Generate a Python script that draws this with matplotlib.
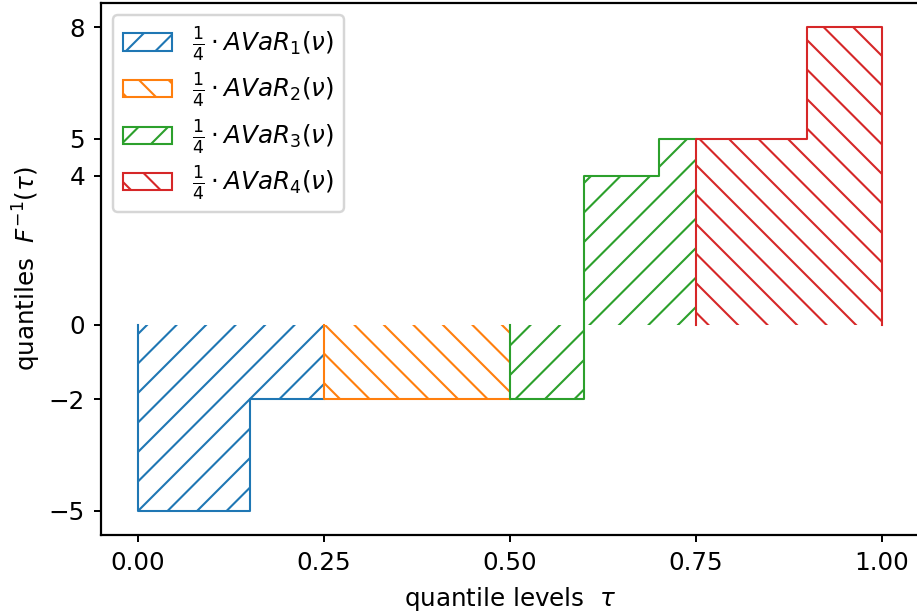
import numpy as np
import matplotlib
matplotlib.use("Agg")
import matplotlib.pyplot as plt
from matplotlib.patches import Patch

# quantile function of the discrete distribution (step, right-continuous)
level_breaks = [0.0, 0.15, 0.6, 0.7, 0.9, 1.0]
quantile_values = [-5, -2, 4, 5, 8]
quarter_edges = [0.0, 0.25, 0.5, 0.75, 1.0]
colors = ['#1f77b4', '#ff7f0e', '#2ca02c', '#d62728']
hatches = ['//', '\\\\', '//', '\\\\']
labels = [r'$\frac{1}{4}\cdot AVaR_%d(\nu)$' % (i + 1) for i in range(4)]
yticks = [-5, -2, 0, 4, 5, 8]
xticks = [0.0, 0.25, 0.5, 0.75, 1.0]

DPI = 177
FS = 10
plt.rcParams.update({
    'font.size': FS,
    'hatch.linewidth': 0.85,
    'xtick.major.size': 3.0,
    'ytick.major.size': 3.0,
    'xtick.major.width': 0.8,
    'ytick.major.width': 0.8,
    'axes.linewidth': 0.9,
})


def quantile(t):
    idx = np.searchsorted(level_breaks, t, side='right') - 1
    idx = np.clip(idx, 0, len(quantile_values) - 1)
    return np.array(quantile_values)[idx]


fig = plt.figure(figsize=(917 / DPI, 612 / DPI), dpi=DPI)
ax = fig.add_axes([101 / 917, 77 / 612, 818 / 917, 532 / 612])

for i in range(4):
    a, b = quarter_edges[i], quarter_edges[i + 1]
    inner = [x for x in level_breaks if a < x < b]
    xs = np.array([a] + inner + [b])
    ys = quantile(xs)
    ys[-1] = ys[-2]
    ax.fill_between(xs, 0, ys, step='post', facecolor='none',
                    edgecolor=colors[i], hatch=hatches[i], linewidth=0)
    # outline without the baseline
    px = [a]
    py = [0]
    for j in range(len(xs) - 1):
        px += [xs[j], xs[j + 1]]
        py += [ys[j], ys[j]]
    if i == 3:
        px.append(b)
        py.append(0)
    ax.plot(px, py, color=colors[i], linewidth=0.85)

ax.set_xlim(-0.05, 1.05)
ax.set_ylim(-5.65, 8.65)
ax.set_xticks(xticks)
ax.set_yticks(yticks)
ax.set_xticklabels(['0.00', '0.25', '0.50', '0.75', '1.00'])
ax.set_xlabel(r'quantile levels  $\tau$')
ax.set_ylabel(r'quantiles  $F^{-1}(\tau)$', labelpad=2.5)

handles = [Patch(facecolor='none', edgecolor=colors[i], hatch=hatches[i],
                 linewidth=0.85, label=labels[i]) for i in range(4)]
ax.legend(handles=handles, loc='upper left', fontsize=FS, labelspacing=0.36)

fig.savefig('out.png', dpi=DPI)
